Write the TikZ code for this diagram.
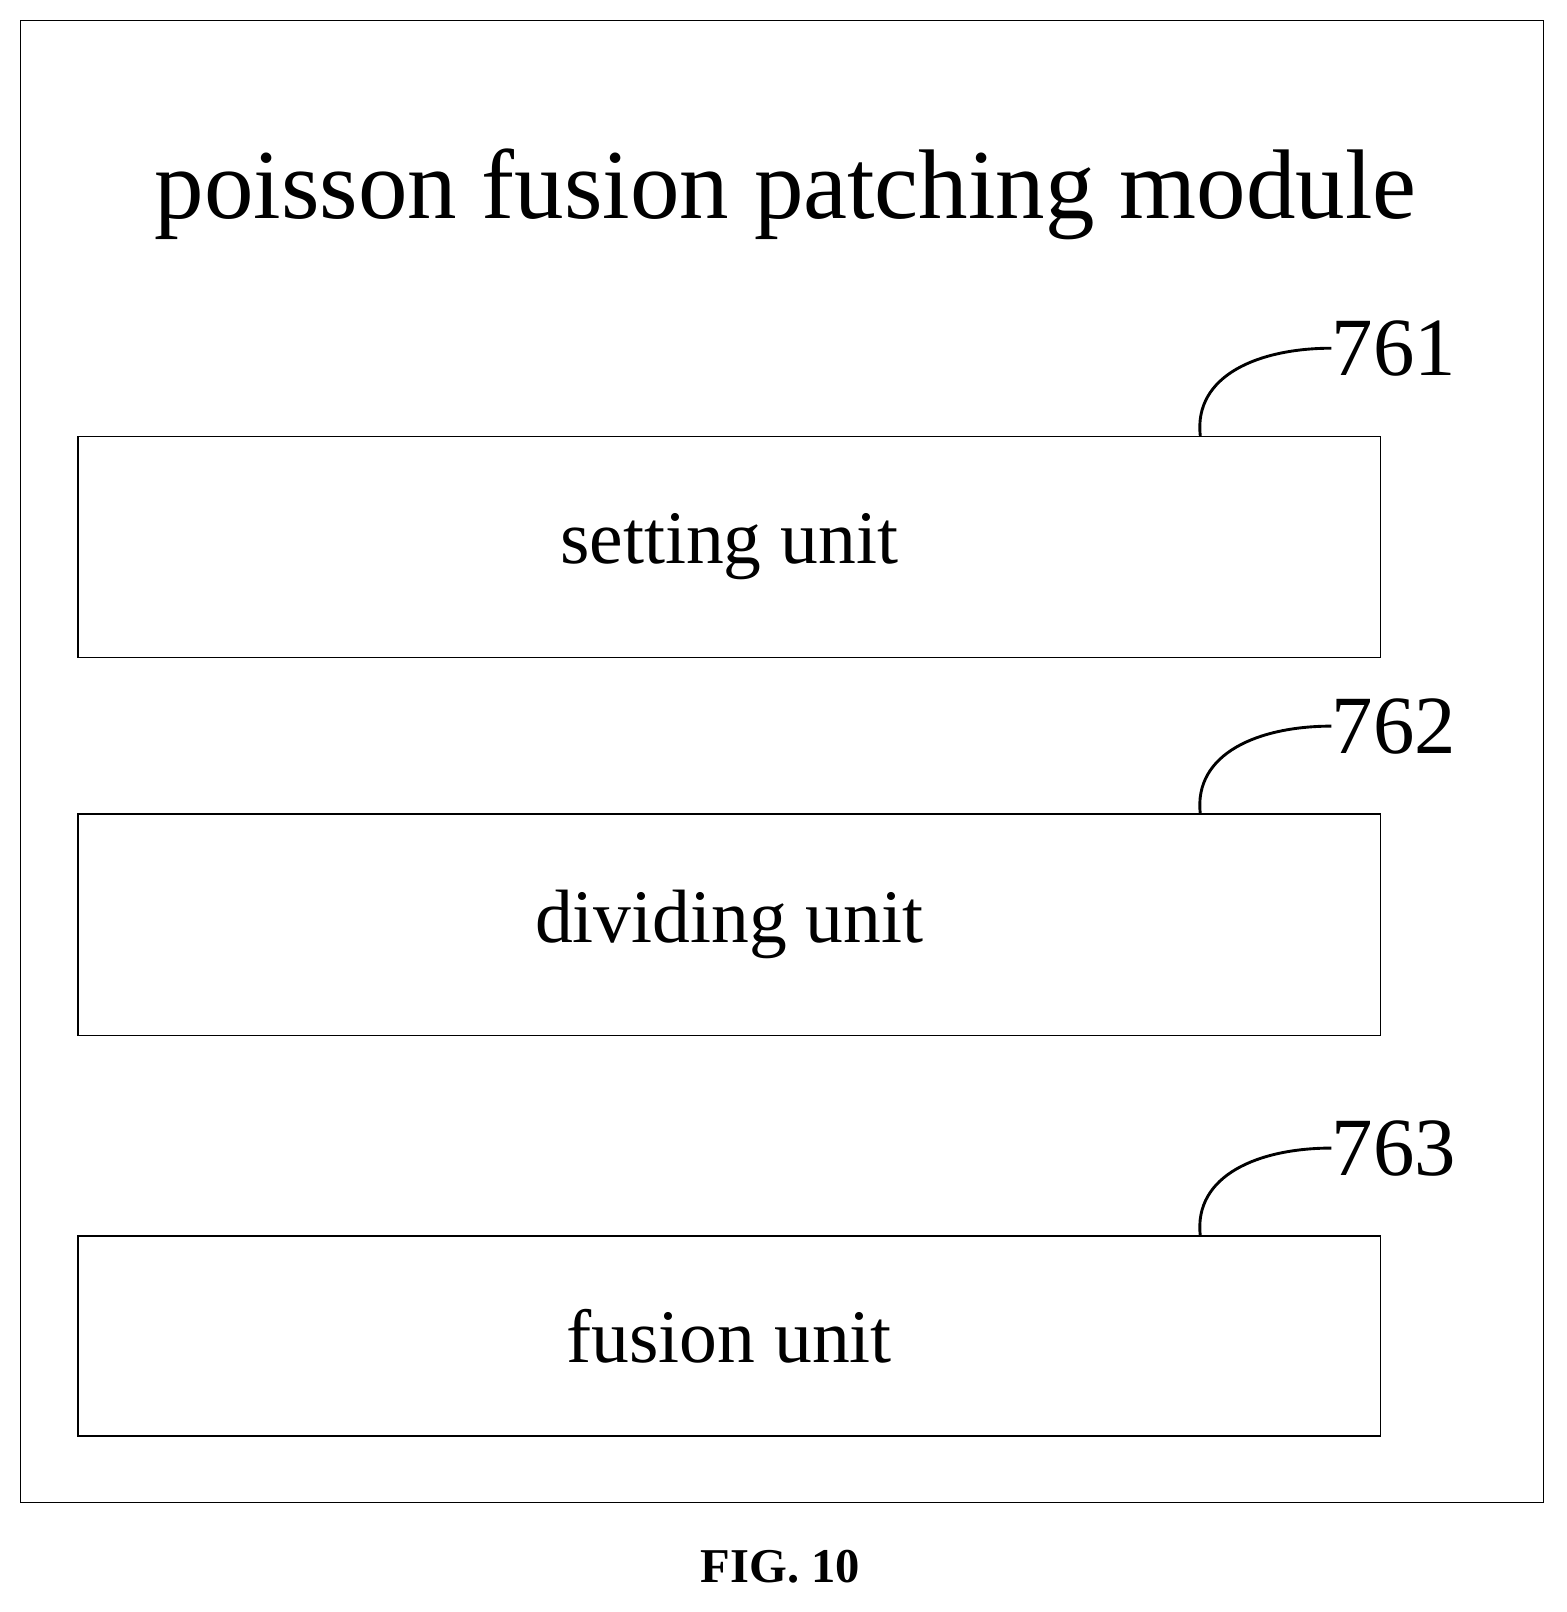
\documentclass[tikz,border=0pt]{standalone}
\usepackage{fontspec}
\setmainfont{Liberation Serif}
\begin{document}
\begin{tikzpicture}[x=0.02cm,y=-0.02cm,
  unitbox/.style={draw,line width=0.8pt},
  lead/.style={line width=1.6pt},
  num/.style={font=\fontsize{46}{50}\selectfont,inner sep=0pt}]
\useasboundingbox (0,0) rectangle (1530,1574);
\draw[line width=0.9pt] (20,20) rectangle (1507,1467);
\node[font=\fontsize{55}{60}\selectfont] (title) at (767,190) {poisson fusion patching module};
\foreach \n/\t/\b/\lab/\num in {a/426/642/setting unit/761, b/795/1011/dividing unit/762, c/1207/1402/fusion unit/763}{
  \draw[unitbox] (76,\t) rectangle (1348,\b);
  \node[font=\fontsize{42}{46}\selectfont] (\n) at (712,{(\t+\b)/2}) {\lab};
  \coordinate (\n s) at (1172,\t);
  \node[num,anchor=west] (\n n) at (1300,\t-86) {\num};
  \draw[lead] (\n s) .. controls (1165,\t-60) and (1230,\t-86) .. (\n n.west);
}
\node[font=\bfseries\fontsize{27}{30}\selectfont] (fig) at (762,1530) {FIG. 10};
\end{tikzpicture}
\end{document}
